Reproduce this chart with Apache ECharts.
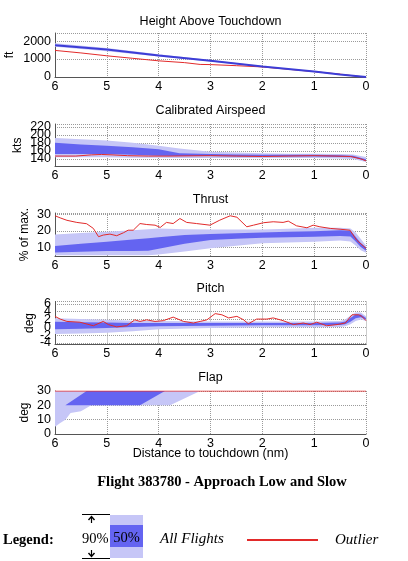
<!DOCTYPE html>
<html>
<head>
<meta charset="utf-8">
<script src="https://cdn.jsdelivr.net/npm/echarts@6/dist/echarts.min.js"></script>
<style>
html, body { margin: 0; padding: 0; background: #fff; }
#main { width: 408px; height: 561px; }
</style>
</head>
<body>
<div id="main"></div>
<script>
// distance to touchdown ticks (nm)
const distTicks = [6, 5, 4, 3, 2, 1, 0];

// Height Above Touchdown (ft)
const heightBandX = [6, 5, 4, 3, 2, 1, 0.5, 0];
const heightHi90 = [1880, 1620, 1270, 950, 610, 320, 160, 20];
const heightLo90 = [1680, 1440, 1140, 860, 550, 280, 130, 0];
const heightMedian = [1770, 1530, 1200, 900, 580, 300, 145, 5];
const heightOutX = [6, 5.5, 5, 4.5, 4, 3.5, 3.2, 3, 2.5, 2, 1.5, 1, 0.5, 0.2, 0];
const heightOut = [1480, 1340, 1180, 1040, 900, 800, 700, 690, 630, 560, 430, 300, 160, 50, 0];

// Calibrated Airspeed (kts)
const speedBandX = [6, 5.5, 5, 4.5, 4, 3.6, 3, 2.5, 2, 1.5, 1, 0.5, 0.25, 0];
const speedHi90 = [192, 189, 186, 180, 173, 166, 158, 156, 154, 153, 153, 152, 151, 145];
const speedLo90 = [144, 144, 144, 143, 143, 142, 142, 142, 142, 142, 142, 141, 140, 132];
const speedHi50 = [180, 176, 173, 169, 164, 154, 152, 151, 150, 150, 150, 149, 148, 139];
const speedLo50 = [152, 152, 152, 150, 148, 147, 147, 146, 146, 146, 146, 145, 144, 135];
const speedOutX = [6, 5.6, 5.3, 5.1, 4.9, 4.6, 4.2, 3.8, 3, 2.5, 2, 1.5, 1, 0.6, 0.3, 0.1, 0];
const speedOut = [147, 147, 150, 151, 150, 148, 147, 147, 148, 147, 146, 147, 148, 147, 146, 140, 135];

// Thrust (% of max.)
const thrustBandX = [6, 5.5, 5, 4.5, 4.2, 4, 3.5, 3, 2.5, 2, 1.5, 1, 0.5, 0.3, 0.2, 0.1, 0];
const thrustHi90 = [17.8, 18.6, 19.4, 20.4, 21, 21.5, 21, 20.9, 20.9, 20.9, 21.3, 21.9, 21.9, 21.5, 19, 15, 11];
const thrustLo90 = [5, 5, 5, 5, 5, 5.5, 7.2, 9.2, 10.8, 12.3, 12.8, 13.3, 14, 13.5, 11, 8, 6.5];
const thrustHi50 = [10.6, 12, 13.3, 14.7, 15.5, 16, 17.4, 18, 18.5, 19, 19.4, 19.8, 20.4, 20, 16.4, 12.5, 9.8];
const thrustLo50 = [6.6, 7.1, 7.6, 7.6, 7.8, 9, 12, 14.3, 15.1, 15.8, 16.1, 16.4, 16.9, 16.5, 13.5, 10, 7.8];
const thrustOutX = [6, 5.9, 5.77, 5.58, 5.39, 5.26, 5.16, 5.07, 4.94, 4.81, 4.68, 4.59, 4.49, 4.36, 4.23, 4.07,
  3.97, 3.85, 3.72, 3.59, 3.46, 3.27, 3.01, 2.82, 2.62, 2.49, 2.3, 2.17, 1.98, 1.79, 1.6, 1.5, 1.34, 1.14,
  1.02, 0.89, 0.69, 0.5, 0.31, 0.18, 0];
const thrustOut = [29.3, 28, 26.5, 25.2, 24.4, 21.5, 16.4, 17.4, 18, 17, 18.8, 20.4, 20.4, 24.5, 23.9, 23.5,
  22.1, 25.2, 24.5, 27.6, 25.2, 24.5, 23.5, 26.6, 29.3, 28.4, 22.5, 23.5, 25, 25.6, 25.2, 26, 23.1, 21.9,
  23.5, 22.5, 21.5, 21, 20.4, 14.3, 9.2];

// Pitch (deg)
const pitchBandX = [6, 5.5, 5, 4.5, 4, 3, 2, 1, 0.5, 0.4, 0.3, 0.2, 0.1, 0];
const pitchHi90 = [2.3, 2.1, 1.9, 1.7, 1.6, 1.5, 1.5, 1.5, 1.6, 2.0, 3.0, 3.8, 3.8, 2.8];
const pitchLo90 = [-1.7, -1.6, -1.4, -1.0, -0.5, -0.2, 0, 0, 0.1, 0.3, 0.8, 1.6, 2.0, 1.6];
const pitchHi50 = [1.4, 1.3, 1.2, 1.1, 1.1, 1.1, 1.1, 1.1, 1.2, 1.5, 2.4, 3.3, 3.3, 2.4];
const pitchLo50 = [-0.5, -0.4, -0.2, 0.1, 0.3, 0.4, 0.5, 0.5, 0.6, 0.8, 1.4, 2.3, 2.6, 2.0];
const pitchOutX = [6, 5.9, 5.77, 5.52, 5.26, 5.07, 4.97, 4.81, 4.62, 4.46, 4.36, 4.23, 4.07, 3.91, 3.72, 3.52,
  3.33, 3.2, 3.07, 2.91, 2.78, 2.65, 2.49, 2.36, 2.27, 2.11, 1.91, 1.79, 1.6, 1.4, 1.21, 1.08, 0.95, 0.76,
  0.56, 0.4, 0.27, 0.14, 0.08, 0];
const pitchOut = [2.8, 2.1, 1.5, 1.3, 0.4, 1.5, 0.7, 0.1, 0.4, 1.9, 1.5, 1.9, 1.5, 1.7, 2.6, 1.5,
  1.1, 1.5, 1.9, 3.5, 3.2, 2.4, 2.8, 1.9, 0.9, 2.1, 2.1, 2.4, 1.7, 0.7, 1.1, 0.7, 1.3, 0.4,
  0.7, 1.1, 3.2, 3.2, 2.8, 1.7];

// Flap (deg)
const flapBand90X = [6, 5.9, 5.8, 5.7, 5.5, 5.4, 5.3, 3.78, 3.2, 0];
const flapHi90 = [30, 30, 30, 30, 30, 30, 30, 30, 30, 30];
const flapLo90 = [5, 7.7, 10, 14.7, 15.8, 18, 20, 20, 30, 30];
const flapBand50X = [6, 5.8, 5.39, 4.36, 3.88, 0];
const flapHi50 = [20, 20, 30, 30, 30, 30];
const flapLo50 = [20, 20, 20, 20, 30, 30];
const flapOutX = [6, 0];
const flapOut = [30, 30];

const LIGHT = "#c6c6f7";
const DARK = "#6464f1";
const RED = "#e22a2a";
const SANS = "Liberation Sans, Arial, sans-serif";
const SERIF = "Liberation Serif, Times New Roman, serif";

const panels = [
  { title: "Height Above Touchdown", unit: "ft", top: 33, height: 44, min: 0, max: 2450,
    labels: [0, 1000, 2000], nameGap: 39 },
  { title: "Calibrated Airspeed", unit: "kts", top: 124, height: 42.5, min: 121, max: 227,
    labels: [140, 160, 180, 200, 220], nameGap: 31 },
  { title: "Thrust", unit: "% of max.", top: 213, height: 43, min: 4.5, max: 31,
    labels: [10, 20, 30], nameGap: 24 },
  { title: "Pitch", unit: "deg", top: 301.5, height: 43, min: -4.4, max: 6.6,
    labels: [-4, -2, 0, 2, 4, 6], nameGap: 19 },
  { title: "Flap", unit: "deg", top: 391, height: 43, min: 0, max: 30,
    labels: [0, 10, 20, 30], nameGap: 24 }
];

function band(idx, xs, lo, hi, color) {
  return {
    type: "custom",
    xAxisIndex: idx,
    yAxisIndex: idx,
    silent: true,
    data: xs.map((x, i) => [x, lo[i], hi[i]]),
    encode: { x: 0, y: [1, 2] },
    renderItem: function (params, api) {
      if (params.dataIndex !== 0) return null;
      const pts = [];
      for (let i = 0; i < xs.length; i++) pts.push(api.coord([xs[i], hi[i]]));
      for (let i = xs.length - 1; i >= 0; i--) pts.push(api.coord([xs[i], lo[i]]));
      return { type: "polygon", shape: { points: pts }, style: { fill: color } };
    }
  };
}

function line(idx, xs, ys, color, width) {
  return {
    type: "line",
    xAxisIndex: idx,
    yAxisIndex: idx,
    data: xs.map((x, i) => [x, ys[i]]),
    showSymbol: false,
    silent: true,
    z: 5,
    lineStyle: { color: color, width: width }
  };
}

const plain = v => String(v);

const grids = panels.map(p => ({
  left: 55, right: 42, top: p.top, height: p.height, outerBoundsMode: "none"
}));

const xAxes = panels.map((p, i) => ({
  type: "value",
  gridIndex: i,
  inverse: true,
  min: 0,
  max: 6,
  interval: 1,
  name: i === panels.length - 1 ? "Distance to touchdown (nm)" : "",
  nameLocation: "middle",
  nameGap: 13,
  nameMoveOverlap: false,
  nameTextStyle: { fontFamily: SANS, fontSize: 12.5, color: "#000" },
  axisLine: { onZero: false, lineStyle: { color: "#555", width: 1 } },
  axisTick: { show: false },
  axisLabel: { fontFamily: SANS, fontSize: 12.5, color: "#000", margin: 3,
    customValues: distTicks, showMinLabel: true, showMaxLabel: true, formatter: plain },
  splitLine: { show: true, lineStyle: { type: "dotted", color: "#9a9a9a" } }
}));

// main y axes carry the line, grid and every other label; a twin axis on the same
// grid carries the remaining labels so that crowded ticks are all drawn
const yAxes = [];
panels.forEach((p, i) => {
  yAxes.push({
    type: "value",
    gridIndex: i,
    min: p.min,
    max: p.max,
    name: p.unit,
    nameLocation: "middle",
    nameRotate: 90,
    nameGap: p.nameGap,
    nameMoveOverlap: false,
    nameTextStyle: { fontFamily: SANS, fontSize: 12, color: "#000" },
    axisLine: { show: true, onZero: false, lineStyle: { color: "#555", width: 1 } },
    axisTick: { show: false, customValues: p.labels.concat([p.max]) },
    axisLabel: { fontFamily: SANS, fontSize: 12.5, color: "#000", margin: 4,
      customValues: p.labels.filter((v, k) => k % 2 === 0),
      showMinLabel: true, showMaxLabel: true, formatter: plain },
    splitLine: { show: true, lineStyle: { type: "dotted", color: "#9a9a9a" } }
  });
});
panels.forEach((p, i) => {
  yAxes.push({
    type: "value",
    gridIndex: i,
    position: "left",
    offset: 0,
    min: p.min,
    max: p.max,
    axisLine: { show: false, onZero: false },
    axisTick: { show: false },
    splitLine: { show: false },
    axisLabel: { fontFamily: SANS, fontSize: 12.5, color: "#000", margin: 4,
      customValues: p.labels.filter((v, k) => k % 2 === 1),
      showMinLabel: true, showMaxLabel: true, formatter: plain }
  });
});

const series = [
  band(0, heightBandX, heightLo90, heightHi90, LIGHT),
  line(0, heightOutX, heightOut, RED, 1),
  line(0, heightBandX, heightMedian, "#3d3dd6", 2),

  band(1, speedBandX, speedLo90, speedHi90, LIGHT),
  band(1, speedBandX, speedLo50, speedHi50, DARK),
  line(1, speedOutX, speedOut, RED, 1),

  band(2, thrustBandX, thrustLo90, thrustHi90, LIGHT),
  band(2, thrustBandX, thrustLo50, thrustHi50, DARK),
  line(2, thrustOutX, thrustOut, RED, 1),

  band(3, pitchBandX, pitchLo90, pitchHi90, LIGHT),
  band(3, pitchBandX, pitchLo50, pitchHi50, DARK),
  line(3, pitchOutX, pitchOut, RED, 1),

  band(4, flapBand90X, flapLo90, flapHi90, LIGHT),
  band(4, flapBand50X, flapLo50, flapHi50, DARK),
  line(4, flapOutX, flapOut, RED, 1)
];

const titleYs = [22, 111, 200, 289, 378];
const graphics = panels.map((p, i) => ({
  type: "text", x: 210.5, y: titleYs[i],
  style: { text: p.title, font: "12.5px " + SANS, fill: "#000", textAlign: "center", textVerticalAlign: "middle" }
}));

// figure caption and legend
graphics.push(
  { type: "text", x: 222, y: 482,
    style: { text: "Flight 383780 - Approach Low and Slow", font: "bold 14.5px " + SERIF, fill: "#000",
      textAlign: "center", textVerticalAlign: "middle" } },
  { type: "text", x: 3, y: 540,
    style: { text: "Legend:", font: "bold 14.5px " + SERIF, fill: "#000", textVerticalAlign: "middle" } },
  { type: "rect", shape: { x: 110, y: 515, width: 33, height: 43 }, style: { fill: LIGHT } },
  { type: "rect", shape: { x: 110, y: 525, width: 33, height: 22 }, style: { fill: DARK } },
  { type: "line", shape: { x1: 82, y1: 514.5, x2: 110, y2: 514.5 }, style: { stroke: "#000", lineWidth: 1 } },
  { type: "line", shape: { x1: 82, y1: 558.5, x2: 110, y2: 558.5 }, style: { stroke: "#000", lineWidth: 1 } },
  { type: "line", shape: { x1: 91.5, y1: 517, x2: 91.5, y2: 523 }, style: { stroke: "#000", lineWidth: 1.2 } },
  { type: "polyline", shape: { points: [[88.5, 520], [91.5, 516.5], [94.5, 520]] }, style: { stroke: "#000", lineWidth: 1.4, fill: null } },
  { type: "line", shape: { x1: 91.5, y1: 550, x2: 91.5, y2: 556 }, style: { stroke: "#000", lineWidth: 1.2 } },
  { type: "polyline", shape: { points: [[88.5, 553], [91.5, 556.5], [94.5, 553]] }, style: { stroke: "#000", lineWidth: 1.4, fill: null } },
  { type: "text", x: 82, y: 539,
    style: { text: "90%", font: "14.5px " + SERIF, fill: "#000", textVerticalAlign: "middle" } },
  { type: "text", x: 126.5, y: 538,
    style: { text: "50%", font: "14.5px " + SERIF, fill: "#000", textAlign: "center", textVerticalAlign: "middle" } },
  { type: "text", x: 160, y: 539,
    style: { text: "All Flights", font: "italic 15px " + SERIF, fill: "#000", textVerticalAlign: "middle" } },
  { type: "line", shape: { x1: 247, y1: 540, x2: 318, y2: 540 }, style: { stroke: RED, lineWidth: 2 } },
  { type: "text", x: 335, y: 540,
    style: { text: "Outlier", font: "italic 15px " + SERIF, fill: "#000", textVerticalAlign: "middle" } }
);

const options = {
  animation: false,
  backgroundColor: "#fff",
  grid: grids,
  xAxis: xAxes,
  yAxis: yAxes,
  series: series,
  graphic: graphics
};

var myChart = echarts.init(document.getElementById("main"));
myChart.setOption(options);
window.onresize = function () {
  myChart.resize();
};
</script>
</body>
</html>
